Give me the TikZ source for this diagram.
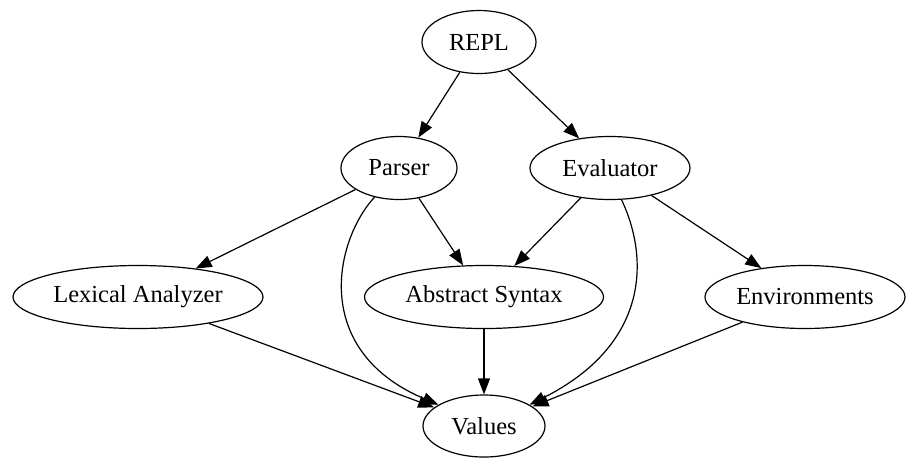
\documentclass[tikz,border=0pt]{standalone}
\usepackage{fontspec}
\setmainfont{Liberation Serif}
\usepackage{tikz}
\usetikzlibrary{arrows.meta, shapes.geometric, positioning}

\begin{document}
\begin{tikzpicture}[x=1pt, y=-1pt,
    module/.style={ellipse, draw, line width=1.2pt, inner sep=0pt, minimum height=63pt,
                   font=\fontsize{24.5}{29}\selectfont},
    dep/.style={-{Triangle[length=16pt, width=12pt]}, line width=1.2pt}]
            % \tikzstyle{every node}=[ellipse,draw]
            \useasboundingbox (0,0) rectangle (906,459);
            \node[module, minimum width=114pt] (repl) at (479,42) {REPL};
            \node[module, minimum width=116pt] (parser) at (399,168) {Parser};
            \node[module, minimum width=160pt] (eval) at (610,168) {Evaluator};
            \node[module, minimum width=250pt] (lexer) at (138,297) {Lexical Analyzer};
            \node[module, minimum width=239pt] (ast) at (484,297) {Abstract Syntax};
            \node[module, minimum width=200pt] (env) at (805,297) {Environments};
            \node[module, minimum width=122pt, minimum height=62pt] (values) at (484,426) {Values};
            
            \path[dep]  (repl) edge (parser);
            \path[dep]  (repl) edge (eval);
            \path[dep]  (parser) edge (lexer);
            \path[dep]  (parser) edge (ast);
            \draw[dep]  (parser.230) .. controls (335,240) and (310,350) .. (values.155);
            \path[dep]  (eval) edge (ast);
            \path[dep]  (eval) edge (env);
            \draw[dep]  (eval.290) .. controls (650,260) and (648,345) .. (values.25);
            \path[dep]  (lexer) edge (values);
            \path[dep]  (ast) edge (values);
            \path[dep]  (env) edge (values);
        \end{tikzpicture}
\end{document}
